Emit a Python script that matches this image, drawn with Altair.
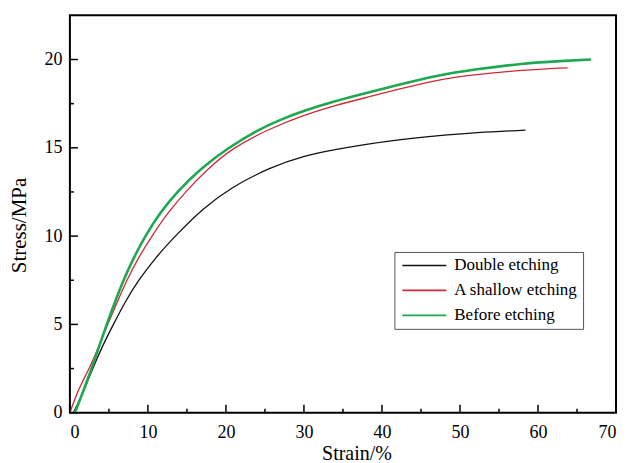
import altair as alt
import pandas as pd

series_names = ["Double etching", "A shallow etching", "Before etching"]
series_colors = ["#111111", "#cc2a36", "#1ea84f"]
series_widths = [1.3, 1.3, 2.6]

black_x = [0.43, 1.5, 2.9, 4.2, 5.57, 7.1, 8.78, 11.0, 13.7, 17.0, 20.6, 25.7,
           30.0, 34.0, 38.0, 42.0, 47.0, 52.0, 58.4]
black_y = [0.0, 0.9, 2.5, 3.8, 5.0, 6.3, 7.5, 8.8, 10.1, 11.55, 12.75, 13.9,
           14.55, 14.9, 15.2, 15.45, 15.68, 15.87, 16.0]

red_x = [0.0, 0.6, 1.3, 2.5, 3.7, 4.84, 6.0, 7.28, 8.8, 10.5, 12.5, 14.8, 17.5, 21.0, 25.7,
         30.0, 34.0, 38.0, 42.0, 47.0, 52.0, 58.0, 63.8]
red_y = [0.0, 0.75, 1.5, 2.5, 3.75, 5.0, 6.2, 7.5, 8.8, 10.0, 11.3, 12.5, 13.75, 15.05, 16.1,
         16.85, 17.4, 17.85, 18.3, 18.85, 19.15, 19.4, 19.53]

green_x = [0.64, 1.7, 2.78, 3.7, 4.71, 5.8, 6.85, 8.2, 9.64, 11.5, 13.7, 16.8, 20.3, 24.0,
           27.0, 30.0, 34.0, 38.0, 42.0, 47.0, 52.0, 58.0, 63.0, 66.8]
green_y = [0.0, 1.2, 2.5, 3.7, 5.0, 6.3, 7.5, 8.8, 10.0, 11.3, 12.5, 13.85, 15.0, 16.0,
           16.6, 17.1, 17.65, 18.1, 18.55, 19.1, 19.45, 19.78, 19.92, 20.0]

x_major = [0, 10, 20, 30, 40, 50, 60, 70]
x_minor = [5, 15, 25, 35, 45, 55, 65]
y_major = [0, 5, 10, 15, 20]
y_minor = [2.5, 7.5, 12.5, 17.5]

rows = []
for k, (name, xs, ys) in enumerate(zip(series_names, [black_x, red_x, green_x],
                                       [black_y, red_y, green_y])):
    for i, (a, b) in enumerate(zip(xs, ys)):
        rows.append({"series": name, "strain": a, "stress": b, "idx": i})
df = pd.DataFrame(rows)

W, H = 547, 398
FONT = "Liberation Serif"

xscale = alt.Scale(domain=[0, 70], nice=False, zero=False)
yscale = alt.Scale(domain=[0, 22.5], nice=False, zero=False)

x_enc = alt.X("strain:Q", scale=xscale,
              axis=alt.Axis(values=x_major, title="Strain/%", titleX=287, titleY=47,
                            titleBaseline="alphabetic", titleFontSize=20, labelPadding=11))
y_enc = alt.Y("stress:Q", scale=yscale,
              axis=alt.Axis(values=y_major, title="Stress/MPa", titleX=-50, titleY=210,
                            titleBaseline="middle", titleAngle=270, labelPadding=8))
color_enc = alt.Color("series:N", scale=alt.Scale(domain=series_names, range=series_colors),
                      legend=alt.Legend(orient="none", legendX=325, legendY=237, title=None,
                                        strokeColor="#555555", fillColor="white", padding=5,
                                        symbolType="M-1,0H7", symbolSize=121,
                                        symbolStrokeWidth=1.6,
                                        labelFont=FONT, labelFontSize=17, labelColor="black",
                                        rowPadding=7, labelOffset=38))

def series_layer(name, width):
    return alt.Chart(df).transform_filter(
        alt.datum.series == name
    ).mark_line(interpolate="basis", strokeWidth=width).encode(
        x=x_enc, y=y_enc, color=color_enc, order="idx:Q"
    )

line_layers = [series_layer(n, w) for n, w in zip(series_names, series_widths)]

xmaj = pd.DataFrame({"strain": x_major})
xmin = pd.DataFrame({"strain": x_minor})
ymaj = pd.DataFrame({"stress": y_major})
ymin = pd.DataFrame({"stress": y_minor})

def xticks(d, ln):
    return alt.Chart(d).mark_rule(color="black", strokeWidth=1.5).encode(
        x=x_enc, y=alt.value(H), y2=alt.value(H - ln))

def yticks(d, ln):
    return alt.Chart(d).mark_rule(color="black", strokeWidth=1.5).encode(
        y=y_enc, x=alt.value(0), x2=alt.value(ln))

chart = alt.layer(
    *line_layers, xticks(xmaj, 8), xticks(xmin, 4), yticks(ymaj, 8), yticks(ymin, 4)
).properties(
    width=W, height=H,
    autosize=alt.AutoSizeParams(type="none"),
    padding={"left": 62, "top": 7, "right": 12, "bottom": 50},
).configure_view(
    stroke="black", strokeWidth=2
).configure_axis(
    grid=False, domain=False, ticks=False,
    labelFont=FONT, labelFontSize=18, labelColor="black",
    titleFont=FONT, titleFontSize=21, titleFontWeight="normal", titleColor="black",
)

chart.save("out.html", embed_options={"renderer": "svg", "actions": False})
